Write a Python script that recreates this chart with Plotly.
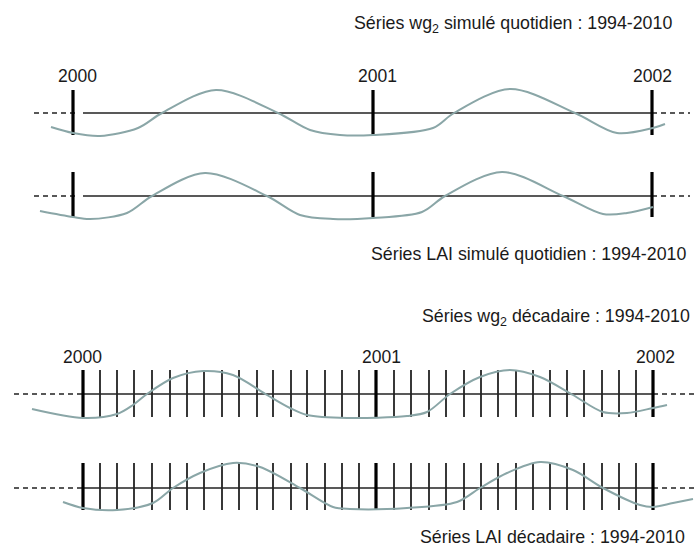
import plotly.graph_objects as go

# ---- data (schematic units) ----
YEAR_LABELS = ["2000", "2001", "2002"]
DAILY_YEAR_POS = [73, 373, 652]
DEKAD_TICK_POS = [83, 100, 117, 134, 152, 170, 187, 204, 222, 239, 257, 273, 291, 307, 325, 342,
                  359, 376, 394, 411, 429, 446, 464, 481, 498, 516, 533, 550, 567, 584, 602, 619, 636, 653]
DEKAD_YEAR_IDX = [0, 17, 33]

WG2_DAILY_T = [51, 73, 100, 138, 162, 216, 278, 310, 340, 373, 433, 454, 510, 575, 617, 653, 665]
WG2_DAILY_V = [-14, -20, -23, -15, 0, 23, 0, -17, -22, -22, -15, 0, 24, 0, -20, -15, -11]

LAI_DAILY_T = [40, 73, 90, 127, 152, 205, 267, 300, 333, 373, 422, 445, 502, 563, 603, 627, 653]
LAI_DAILY_V = [-15, -21, -23, -17, 0, 23, 0, -19, -23, -22, -16, 0, 24, 0, -18, -17, -11]

WG2_DEK_T = [32, 83, 117, 133, 147, 173, 203, 233, 267, 290, 307, 347, 407, 427, 450, 480, 510, 540, 573, 603, 627, 653, 667]
WG2_DEK_V = [-15, -24, -20, -11, 0, 16, 23, 19, -1, -14, -21, -24, -22, -18, 0, 17, 24, 17, -1, -18, -19, -14, -11]

LAI_DEK_T = [63, 83, 117, 153, 173, 200, 233, 260, 300, 333, 350, 407, 457, 480, 507, 540, 573, 603, 640, 653, 673, 693]
LAI_DEK_V = [-14, -20, -22, -15, 0, 15, 25, 21, 0, -19, -21, -20, -14, 0, 15, 26, 18, 0, -17, -19, -15, -11]

TITLES = ["Séries wg<sub>2</sub> simulé quotidien : 1994-2010",
          "Séries LAI simulé quotidien : 1994-2010",
          "Séries wg<sub>2</sub> décadaire : 1994-2010",
          "Séries LAI décadaire : 1994-2010"]

W, H = 694, 546
WAVE_COLOR = "#8aa6a7"
FONT = "Liberation Sans, Arial, sans-serif"

fig = go.Figure()

def axis_row(y0, left_start, left_end, first, last, right_end, tick_xs, thick_xs, half_up, half_down):
    # dashed extensions
    for xs in ([left_start, left_end], [last, right_end]):
        fig.add_trace(go.Scatter(x=xs, y=[y0, y0], mode="lines",
                                 line=dict(color="#222", width=1.5, dash="5px,4px"),
                                 hoverinfo="skip", showlegend=False))
    fig.add_trace(go.Scatter(x=[first, last], y=[y0, y0], mode="lines",
                             line=dict(color="#222", width=1.6),
                             hoverinfo="skip", showlegend=False))
    if tick_xs:
        tx, ty = [], []
        for t in tick_xs:
            tx += [t, t, None]
            ty += [y0 - half_up, y0 + half_down, None]
        fig.add_trace(go.Scatter(x=tx, y=ty, mode="lines",
                                 line=dict(color="#222", width=1.8),
                                 hoverinfo="skip", showlegend=False))
    tx, ty = [], []
    for t in thick_xs:
        tx += [t, t, None]
        ty += [y0 - half_up, y0 + half_down, None]
    fig.add_trace(go.Scatter(x=tx, y=ty, mode="lines",
                             line=dict(color="#000", width=3.2),
                             hoverinfo="skip", showlegend=False))

def wave(y0, ts, vs):
    fig.add_trace(go.Scatter(x=ts, y=[y0 - v for v in vs], mode="lines",
                             line=dict(color=WAVE_COLOR, width=2, shape="spline", smoothing=0.9),
                             hoverinfo="skip", showlegend=False))

# rows
ROW_Y = [113, 196, 394, 488]
dek_years = [DEKAD_TICK_POS[i] for i in DEKAD_YEAR_IDX]
dek_minor = [t for i, t in enumerate(DEKAD_TICK_POS) if i not in DEKAD_YEAR_IDX]

axis_row(ROW_Y[0], 34, 79, DAILY_YEAR_POS[0] + 10, DAILY_YEAR_POS[-1], 690, [], DAILY_YEAR_POS, 23, 22)
wave(ROW_Y[0], WG2_DAILY_T, WG2_DAILY_V)
axis_row(ROW_Y[1], 34, 79, DAILY_YEAR_POS[0] + 10, DAILY_YEAR_POS[-1], 690, [], DAILY_YEAR_POS, 24, 21)
wave(ROW_Y[1], LAI_DAILY_T, LAI_DAILY_V)
axis_row(ROW_Y[2], 14, dek_years[0], dek_years[0], dek_years[-1], 694, dek_minor, dek_years, 24, 23)
wave(ROW_Y[2], WG2_DEK_T, WG2_DEK_V)
axis_row(ROW_Y[3], 14, dek_years[0], dek_years[0], dek_years[-1], 694, dek_minor, dek_years, 25, 22)
wave(ROW_Y[3], LAI_DEK_T, LAI_DEK_V)

ann = []
def text(x, y, s, anchor="center", size=17.8):
    ann.append(dict(x=x, y=y, xref="x", yref="y", text=s, showarrow=False,
                    xanchor=anchor, yanchor="middle",
                    font=dict(family=FONT, size=size, color="#1a1a1a")))

text(513, 24, TITLES[0])
text(528, 254, TITLES[1])
text(420, 317, TITLES[2], anchor="left")
text(418, 537, TITLES[3], anchor="left")

for lbl, x in zip(YEAR_LABELS, [77, 377, 652]):
    text(x, 76, lbl, size=17.5)
for lbl, x in zip(YEAR_LABELS, [82, 381, 655]):
    text(x, 357, lbl, size=17.5)

fig.update_layout(
    width=W, height=H, margin=dict(l=0, r=0, t=0, b=0),
    paper_bgcolor="white", plot_bgcolor="white",
    xaxis=dict(range=[0, W], visible=False, fixedrange=True),
    yaxis=dict(range=[H, 0], visible=False, fixedrange=True),
    annotations=ann, showlegend=False,
)

fig.write_html("out.html", config={"displayModeBar": False},
               post_script="document.body.style.margin='0';document.body.style.overflow='hidden';")
